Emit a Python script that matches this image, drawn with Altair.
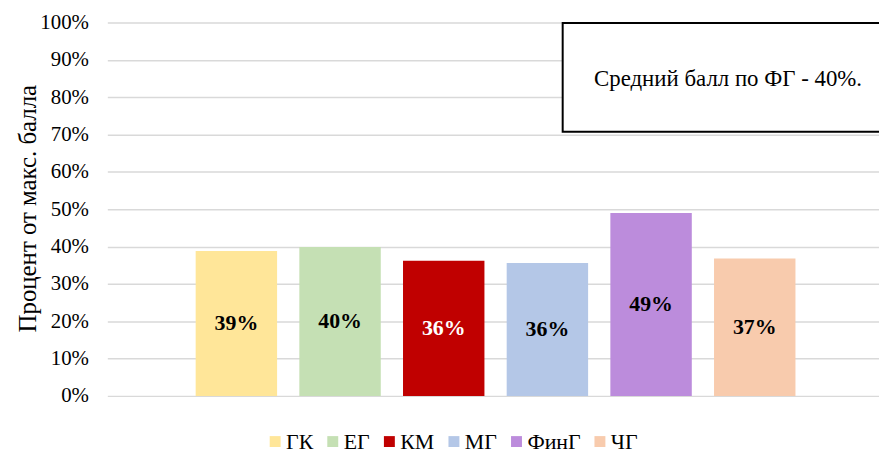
import altair as alt
import pandas as pd

series = ["ГК", "ЕГ", "КМ", "МГ", "ФинГ", "ЧГ"]
values = [0.388, 0.399, 0.362, 0.356, 0.490, 0.368]
colors = ["#ffe699", "#c5e0b4", "#c00000", "#b4c7e7", "#bc8cdc", "#f8cbad"]
y_ticks = [0, 0.1, 0.2, 0.3, 0.4, 0.5, 0.6, 0.7, 0.8, 0.9, 1.0]
note_text = "Средний балл по ФГ - 40%."
y_title = "Процент от макс. балла"

FONT = "Liberation Serif, Times New Roman, serif"
W, H = 777, 376

df = pd.DataFrame({"series": series, "value": values})

x_enc = alt.X(
    "series:N",
    sort=series,
    axis=None,
    scale=alt.Scale(paddingInner=0.2146, paddingOuter=0.829, align=0.514),
)
y_scale = alt.Scale(domain=[0, 1], nice=False)


def y_axis():
    return alt.Axis(values=y_ticks, format=".0%", title=y_title)


base = alt.Chart(df)

bars = base.mark_bar().encode(
    x=x_enc,
    y=alt.Y("value:Q", scale=y_scale, axis=y_axis()),
    color=alt.Color(
        "series:N",
        sort=series,
        scale=alt.Scale(domain=series, range=colors),
        legend=alt.Legend(
            title=None,
            orient="none",
            direction="horizontal",
            legendX=158,
            legendY=411,
        ),
    ),
)

labels = base.transform_calculate(mid="datum.value / 2").mark_text(
    fontSize=22, fontWeight="bold"
).encode(
    x=x_enc,
    y=alt.Y("mid:Q", scale=y_scale, axis=y_axis()),
    text=alt.Text("value:Q", format=".0%"),
    color=alt.condition(
        alt.datum.series == "КМ", alt.value("#ffffff"), alt.value("#000000")
    ),
)

box = alt.Chart(pd.DataFrame({"t": [note_text]})).mark_rect(
    fill="white", stroke="black", strokeWidth=2
).encode(
    x=alt.value(458.5),
    x2=alt.value(778),
    y=alt.value(0.5),
    y2=alt.value(110),
)

note = alt.Chart(pd.DataFrame({"t": [note_text]})).mark_text(
    fontSize=23, color="black", align="center", baseline="middle"
).encode(
    x=alt.value(625),
    y=alt.value(57),
    text="t:N",
)

chart = (
    alt.layer(bars, labels, box, note)
    .properties(
        width=W,
        height=H,
        padding={"left": 100, "top": 13, "right": 0, "bottom": 62},
        autosize=alt.AutoSizeParams(type="none"),
    )
    .configure(background="white", font=FONT)
    .configure_view(stroke="transparent", strokeOpacity=0)
    .configure_text(font=FONT)
    .configure_axisY(
        domain=False,
        domainOpacity=0,
        ticks=False,
        grid=True,
        gridColor="#d9d9d9",
        gridWidth=1.5,
        labelOverlap=False,
        labelFont=FONT,
        labelFontSize=21,
        labelColor="#000000",
        labelPadding=19,
        titleFont=FONT,
        titleFontSize=25,
        titleFontWeight="normal",
        titleColor="#000000",
        titleAngle=-90,
        titleAlign="center",
        titleBaseline="middle",
        titleX=-80,
        titleY=H / 2 - 1,
    )
    .configure_legend(
        symbolType="square",
        symbolSize=121,
        symbolStrokeWidth=0,
        labelFont=FONT,
        labelFontSize=22,
        labelColor="#000000",
        labelOffset=0,
        columnPadding=8,
    )
)

chart.save("out.html", embed_options={"renderer": "svg", "actions": False})
